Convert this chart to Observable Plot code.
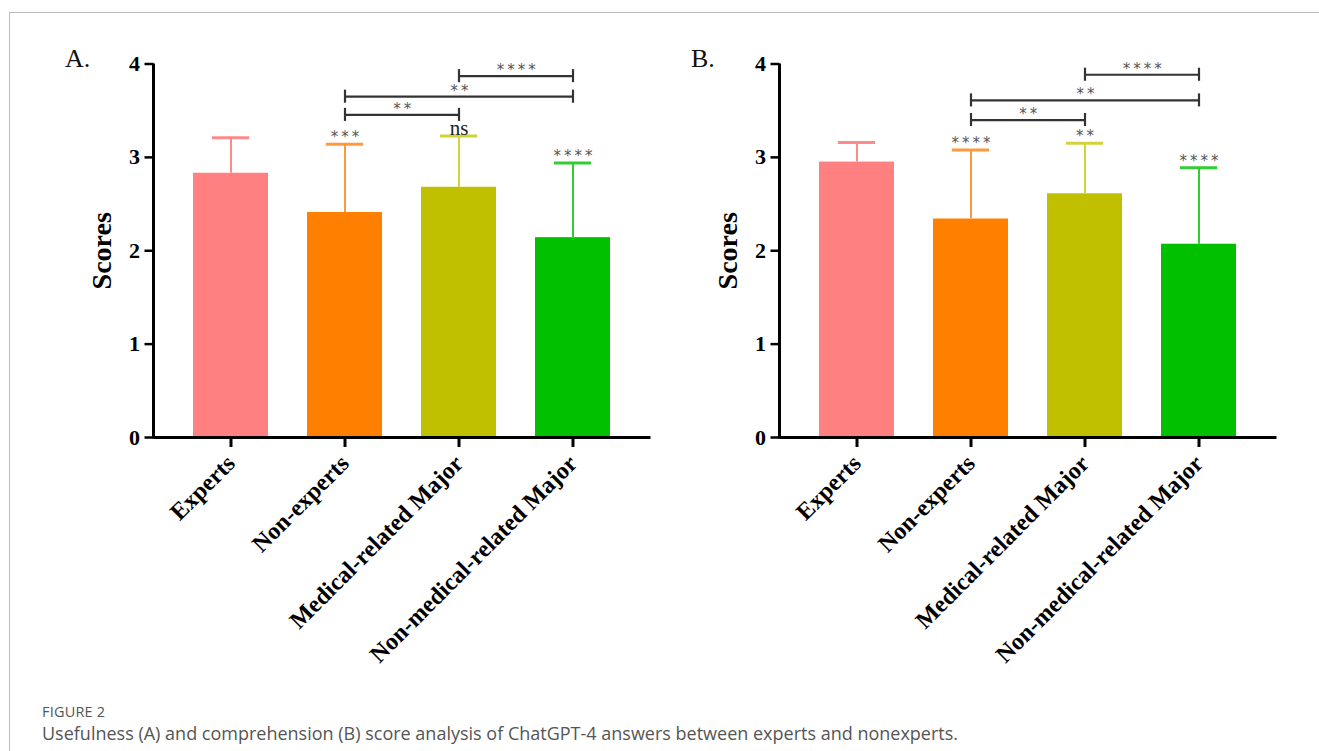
<!DOCTYPE html>
<html>
<head>
<meta charset="utf-8">
<script src="https://cdn.jsdelivr.net/npm/d3@7"></script>
<script src="https://cdn.jsdelivr.net/npm/@observablehq/plot@0.6"></script>
<style>
  html, body { margin: 0; padding: 0; background: #fff; }
  #root { position: relative; width: 1319px; height: 751px; overflow: hidden; background: #fff; }
  #frame { position: absolute; left: 9px; top: 12px; width: 1320px; height: 760px;
           border-top: 1.5px solid #bdbdbd; border-left: 1.5px solid #bdbdbd; }
  .panel { position: absolute; top: 0; }
  .panel svg { overflow: visible; }
  .plabel { position: absolute; font-family: "Liberation Serif", serif; font-size: 26px; color: #111; }
  #fig { position: absolute; left: 42px; top: 702px; font-family: "Open Sans", sans-serif; font-size: 14.5px; color: #555; letter-spacing: 0.2px; }
  #cap { position: absolute; left: 42px; top: 721px; font-family: "Open Sans", sans-serif; font-size: 18px; color: #555; white-space: nowrap; }
</style>
</head>
<body>
<div id="root">
  <div id="frame"></div>
  <div class="plabel" style="left:65px; top:44px;">A.</div>
  <div class="plabel" style="left:691px; top:44px;">B.</div>
  <div class="panel" id="panelA" style="left:0px;"></div>
  <div class="panel" id="panelB" style="left:626px;"></div>
  <div id="fig">FIGURE 2</div>
  <div id="cap">Usefulness (A) and comprehension (B) score analysis of ChatGPT-4 answers between experts and nonexperts.</div>
</div>
<script>
// ---- data ----
const categories = ["Experts", "Non-experts", "Medical-related Major", "Non-medical-related Major"];
const barColors = ["#FF8080", "#FF8000", "#C0C000", "#00C000"];
const errColors = ["#FF8A8A", "#FF9A3C", "#D2D23A", "#33CC33"];
const yTicks = [0, 1, 2, 3, 4];

// Panel A: usefulness
const meansA = [2.83, 2.41, 2.68, 2.14];
const upperA = [3.21, 3.14, 3.23, 2.94];
const sigA = ["", "***", "ns", "****"];
const bracketFromA = ["Non-experts", "Non-experts", "Medical-related Major"];
const bracketToA = ["Medical-related Major", "Non-medical-related Major", "Non-medical-related Major"];
const bracketYA = [3.455, 3.65, 3.87];
const bracketLabelA = ["**", "**", "****"];

// Panel B: comprehension
const meansB = [2.95, 2.34, 2.61, 2.07];
const upperB = [3.16, 3.08, 3.15, 2.89];
const sigB = ["", "****", "**", "****"];
const bracketFromB = ["Non-experts", "Non-experts", "Medical-related Major"];
const bracketToB = ["Medical-related Major", "Non-medical-related Major", "Non-medical-related Major"];
const bracketYB = [3.40, 3.61, 3.885];
const bracketLabelB = ["**", "**", "****"];

// ---- layout ----
const W = 660, H = 690;
const mL = 153.5, mR = 9.5, mT = 63.5, mB = 253;
const xOpts = {type: "band", domain: categories, padding: 0.34};
const serif = "Liberation Serif";
const spaced = s => s.split("").join("\u2009");

function panel(means, uppers, sigs, bFrom, bTo, bY, bLab) {
  const bars = categories.map((c, i) => ({cat: c, mean: means[i], upper: uppers[i], sig: sigs[i], color: barColors[i], err: errColors[i]}));
  const brackets = bY.map((y, i) => ({from: bFrom[i], to: bTo[i], y, label: bLab[i]}));
  const legs = brackets.flatMap(b => [{x: b.from, y1: b.y - 0.07, y2: b.y + 0.07}, {x: b.to, y1: b.y - 0.07, y2: b.y + 0.07}]);
  const sx = Plot.scale({x: {...xOpts, range: [mL, W - mR]}});
  const bw = sx.bandwidth;
  const stars = bars.filter(d => d.sig && d.sig !== "ns");
  const ns = bars.filter(d => d.sig === "ns");
  const starStyle = {fontFamily: "DejaVu Sans", fontSize: 15, fill: "#555", lineAnchor: "bottom"};

  return Plot.plot({
    width: W, height: H,
    marginLeft: mL, marginRight: mR, marginTop: mT, marginBottom: mB,
    x: {...xOpts, label: null},
    y: {domain: [0, 4], ticks: yTicks, label: null},
    color: {type: "identity"},
    style: {fontFamily: serif, background: "transparent", overflow: "visible"},
    marks: [
      Plot.barY(bars, {x: "cat", y: "mean", fill: "color"}),
      Plot.ruleX(bars, {x: "cat", y1: "mean", y2: "upper", stroke: "err", strokeWidth: 2}),
      Plot.tickY(bars, {x: "cat", y: "upper", stroke: "err", strokeWidth: 3, insetLeft: bw / 4, insetRight: bw / 4}),
      Plot.text(stars, {x: "cat", y: "upper", text: d => spaced(d.sig), dy: -2, ...starStyle}),
      Plot.text(ns, {x: "cat", y: "upper", text: "sig", dy: -1, lineAnchor: "bottom",
        fontFamily: serif, fontSize: 21, fill: "#222"}),
      Plot.ruleY(brackets, {x1: "from", x2: "to", y: "y", stroke: "#333", strokeWidth: 2.2, insetLeft: bw / 2, insetRight: bw / 2}),
      Plot.ruleX(legs, {x: "x", y1: "y1", y2: "y2", stroke: "#333", strokeWidth: 2.2}),
      ...brackets.map(b => Plot.text([b], {x: "from", y: "y", text: d => spaced(d.label),
        dx: (sx.apply(b.to) - sx.apply(b.from)) / 2, dy: -1, ...starStyle})),
      Plot.ruleY([0], {stroke: "#000", strokeWidth: 3}),
      Plot.axisX({tickRotate: -45, tickSize: 10, tickPadding: 12, strokeWidth: 3, fontSize: 24, fontWeight: "bold", fill: "#000", label: null}),
      Plot.axisY({ticks: yTicks, tickFormat: d => String(d), tickSize: 9, tickPadding: 5, strokeWidth: 2.5, fontSize: 22, fontWeight: "bold", fill: "#000", label: null}),
      Plot.text(["Scores"], {frameAnchor: "left", rotate: -90, dx: -52, lineAnchor: "middle", textAnchor: "middle",
        fontSize: 28, fontWeight: "bold", fill: "#000"})
    ]
  });
}

function addYLine(plot) {
  const sy = plot.scale("y");
  const sxr = plot.scale("x").range;
  d3.select(plot).append("line")
    .attr("x1", sxr[0]).attr("x2", sxr[0])
    .attr("y1", sy.apply(0) + 1.5).attr("y2", sy.apply(4))
    .attr("stroke", "#000").attr("stroke-width", 3);
  return plot;
}

document.getElementById("panelA").appendChild(addYLine(panel(meansA, upperA, sigA, bracketFromA, bracketToA, bracketYA, bracketLabelA)));
document.getElementById("panelB").appendChild(addYLine(panel(meansB, upperB, sigB, bracketFromB, bracketToB, bracketYB, bracketLabelB)));
</script>
</body>
</html>
